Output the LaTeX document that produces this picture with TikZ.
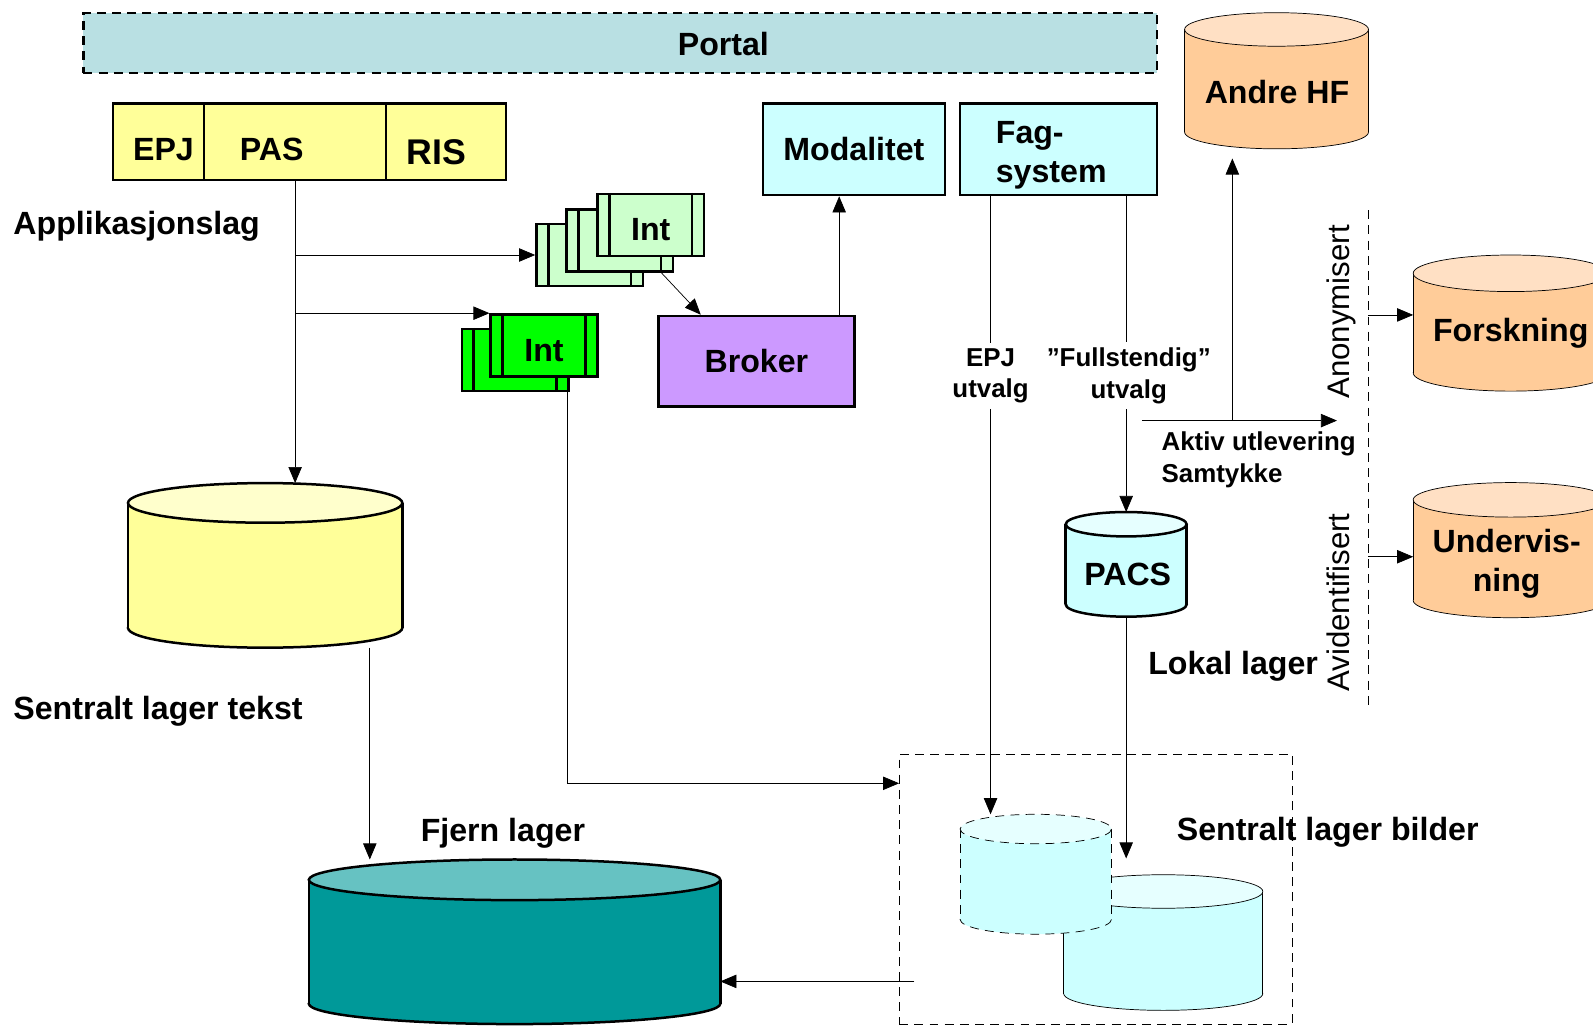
\documentclass[tikz,border=0pt]{standalone}
\usepackage{fontspec}
\setmainfont{Liberation Sans}
\usetikzlibrary{arrows.meta}
\pgfdeclarelayer{background}
\pgfdeclarelayer{foreground}
\pgfsetlayers{background,main,foreground}

\definecolor{portalbg}{HTML}{B9E0E3}
\definecolor{appyellow}{HTML}{FFFF99}
\definecolor{appyellowtop}{HTML}{FFFFCC}
\definecolor{syscyan}{HTML}{CCFFFF}
\definecolor{syscyantop}{HTML}{E6FFFF}
\definecolor{intlight}{HTML}{CCFFCC}
\definecolor{intdark}{HTML}{00FF00}
\definecolor{brokerlilac}{HTML}{CC99FF}
\definecolor{extorange}{HTML}{FFCC99}
\definecolor{extorangetop}{HTML}{FFE0C4}
\definecolor{archteal}{HTML}{009999}
\definecolor{archtealtop}{HTML}{66C2C2}

% database drum: [style]{name}{x1}{x2}{y top}{y bottom}{ry}{body}{top}
\newcommand{\dbcyl}[9][]{%
\draw[#1,fill=#8] ({(#3+#4)/2},#6) ellipse [x radius={(#4-#3)/2}, y radius=#7];
\fill[#8] (#3,#5) rectangle (#4,#6);
\draw[#1] (#3,#5) -- (#3,#6) (#4,#5) -- (#4,#6);
\draw[#1,fill=#9] ({(#3+#4)/2},#5) ellipse [x radius={(#4-#3)/2}, y radius=#7];
\coordinate (#2-n) at ({(#3+#4)/2},{#5-#7});
\coordinate (#2-s) at ({(#3+#4)/2},{#6+#7});
\coordinate (#2-e) at (#4,{(#5+#6)/2});
}
% the two inner bars of an Int box
\newcommand{\intbars}[1]{%
\draw ([xshift=0.26cm]#1.north west) -- ([xshift=0.26cm]#1.south west)
      ([xshift=-0.26cm]#1.north east) -- ([xshift=-0.26cm]#1.south east);
}

\begin{document}
\begin{tikzpicture}[x=0.02cm,y=-0.02cm,line width=1.4pt,
  lbl/.style={font=\bfseries\fontsize{18}{21.6}\selectfont},
  smalllbl/.style={font=\bfseries\fontsize{14.5}{17.6}\selectfont},
  rotlbl/.style={font=\fontsize{17.5}{21}\selectfont,rotate=90},
  arr/.style={-{Triangle[length=9pt,width=7.5pt]}},
  dashframe/.style={draw,dash pattern=on 5pt off 3.5pt},
  appcell/.style={draw,fill=appyellow,lbl,minimum height=1.5cm,inner sep=0,text height=21.5pt},
  sysbox/.style={draw,fill=syscyan,lbl,minimum height=1.8cm,inner sep=0},
  intbox/.style={draw,lbl,minimum width=2.1cm,minimum height=1.22cm,inner sep=0,text height=18pt}]
\path[use as bounding box] (0,0) rectangle (1568,1010);
\clip (0,0) rectangle (1568,1010);

% portal
\node[dashframe,fill=portalbg,minimum width=21.14cm,minimum height=1.18cm] (portal) at (610.5,42.5) {};
\node[lbl] (portaltxt) at (712,43) {Portal};

% application layer
\node[appcell,minimum width=1.8cm,text width=1.0cm,align=left] (epj) at (156,139.5) {EPJ};
\node[appcell,minimum width=3.58cm,text width=2.18cm,align=left] (pas) at (290.5,139.5) {PAS};
\node[appcell,minimum width=2.36cm,text width=1.56cm,align=left,font=\bfseries\fontsize{20}{24}\selectfont,text height=26pt] (ris) at (439,139.5) {RIS};
\node[lbl,anchor=west,inner sep=0] (applag) at (12,223) {Applikasjonslag};

\node[sysbox,minimum width=3.58cm] (modal) at (840.5,147) {Modalitet};
\node[sysbox,minimum width=3.88cm] (fagsys) at (1042,147) {};
\node[lbl,align=left,anchor=west,inner sep=0] (fagtxt) at (979,153) {Fag-\\system};
\node[draw,fill=brokerlilac,lbl,minimum width=3.86cm,minimum height=1.78cm] (broker) at (744.5,355.5) {Broker};

% integration stacks
\node[intbox,fill=intlight] (intA1) at (580.5,251) {};
\intbars{intA1}
\node[intbox,fill=intlight] (intA2) at (610,236.5) {};
\intbars{intA2}
\node[intbox,fill=intlight] (intA3) at (640.5,221.5) {Int};
\intbars{intA3}
\node[intbox,fill=intdark] (intB1) at (507,354.5) {};
\intbars{intB1}
\node[intbox,fill=intdark] (intB2) at (535.5,340) {Int};
\intbars{intB2}

% storage
\dbcyl{txtdb}{126}{396}{495}{618}{19.5}{appyellow}{appyellowtop}
\node[lbl,anchor=west,inner sep=0] (txtlag) at (12,700) {Sentralt lager tekst};
\dbcyl{fjern}{304}{709}{866}{988}{20}{archteal}{archtealtop}
\node[lbl] (fjernlag) at (495,820) {Fjern lager};
\dbcyl{pacs}{1049}{1168}{516}{595}{12}{syscyan}{syscyantop}
\node[lbl] (pacstxt) at (1110,565) {PACS};
\node[lbl,anchor=west,inner sep=0] (lokallag) at (1129,656) {Lokal lager};

\begin{pgfonlayer}{background}
\node[dashframe,minimum width=7.74cm,minimum height=5.32cm] (imgarea) at (1078.5,875) {};
\end{pgfonlayer}
\dbcyl{imgB}{1047}{1243}{877.5}{978}{16.5}{syscyan}{syscyantop}
\dbcyl[dash pattern=on 5pt off 3.5pt]{imgA}{945}{1094}{816}{905}{14.5}{syscyan}{syscyantop}
\node[lbl,anchor=west,inner sep=0] (imglag) at (1158,819) {Sentralt lager bilder};

% external users
\dbcyl{andre}{1166}{1347}{29}{130}{16.5}{extorange}{extorangetop}
\node[lbl] (andretxt) at (1257,91) {Andre HF};
\dbcyl{forsk}{1391}{1583}{269}{367}{18}{extorange}{extorangetop}
\node[lbl] (forsktxt) at (1487,328) {Forskning};
\dbcyl{underv}{1391}{1583}{492}{591}{17}{extorange}{extorangetop}
\node[lbl,align=center] (undervtxt) at (1483,555) {Undervis-\\ning};

\node[rotlbl] (anon) at (1320,307) {Anonymisert};
\node[rotlbl] (avid) at (1317,593) {Avidentifisert};
\node[smalllbl,align=center,inner sep=3pt] (epjutv) at (975,370) {EPJ\\utvalg};
\node[smalllbl,align=center,inner sep=3pt] (fullutv) at (1111,370) {”Fullstendig”\\utvalg};
\node[smalllbl,align=left,anchor=north west,inner sep=0] (aktiv) at (1143,425) {Aktiv utlevering\\Samtykke};

\coordinate (imgin) at (885,771);
\coordinate (imgout) at (900,966);
\coordinate (fjern-in) at (364,846);
\coordinate (imgB-in) at (1108.5,845);
\coordinate (akt1) at (1124,414);
\coordinate (akt2) at (1316,414);
\coordinate (andre-in) at (1213,156);
\coordinate (sep1) at (1347,207);
\coordinate (sep2) at (1347,694);
\coordinate (forsk-in) at (1391,310);
\coordinate (underv-in) at (1391,548);

% connectors
\draw[arr] (pas.south) -- (pas.south |- txtdb-n);
\draw[arr] (pas.south |- intA1.west) -- (intA1.west);
\draw[arr] (pas.south |- intB2.north west) -- (intB2.north west);
\draw[arr] ([xshift=-0.26cm]intA2.south east) -- ([xshift=0.86cm]broker.north west);
\draw[arr] ([xshift=-0.29cm]modal.south |- broker.north) -- ([xshift=-0.29cm]modal.south);
\draw[arr] ([xshift=-0.04cm]intB1.south east) |- (imgin);
\draw[arr] (txtdb-s -| fjern-in) -- (fjern-in);
\draw[arr] (imgout) -- (fjern-e |- imgout);
\draw (fagsys.south -| epjutv) -- (epjutv.north);
\draw[arr] (epjutv.south) -- (epjutv.south |- imgA-n);
\draw (fagsys.south -| pacs-n) -- (fullutv.north -| pacs-n);
\draw[arr] (fullutv.south -| pacs-n) -- (pacs-n);
\draw[arr] (pacs-s) -- (imgB-in);
\draw[arr] (akt1) -- (akt2);
\draw[arr] (andre-in |- akt1) -- (andre-in);
\draw[dash pattern=on 5pt off 3.5pt] (sep1) -- (sep2);
\draw[arr] (sep1 |- forsk-in) -- (forsk-in);
\draw[arr] (sep1 |- underv-in) -- (underv-in);
\end{tikzpicture}
\end{document}
